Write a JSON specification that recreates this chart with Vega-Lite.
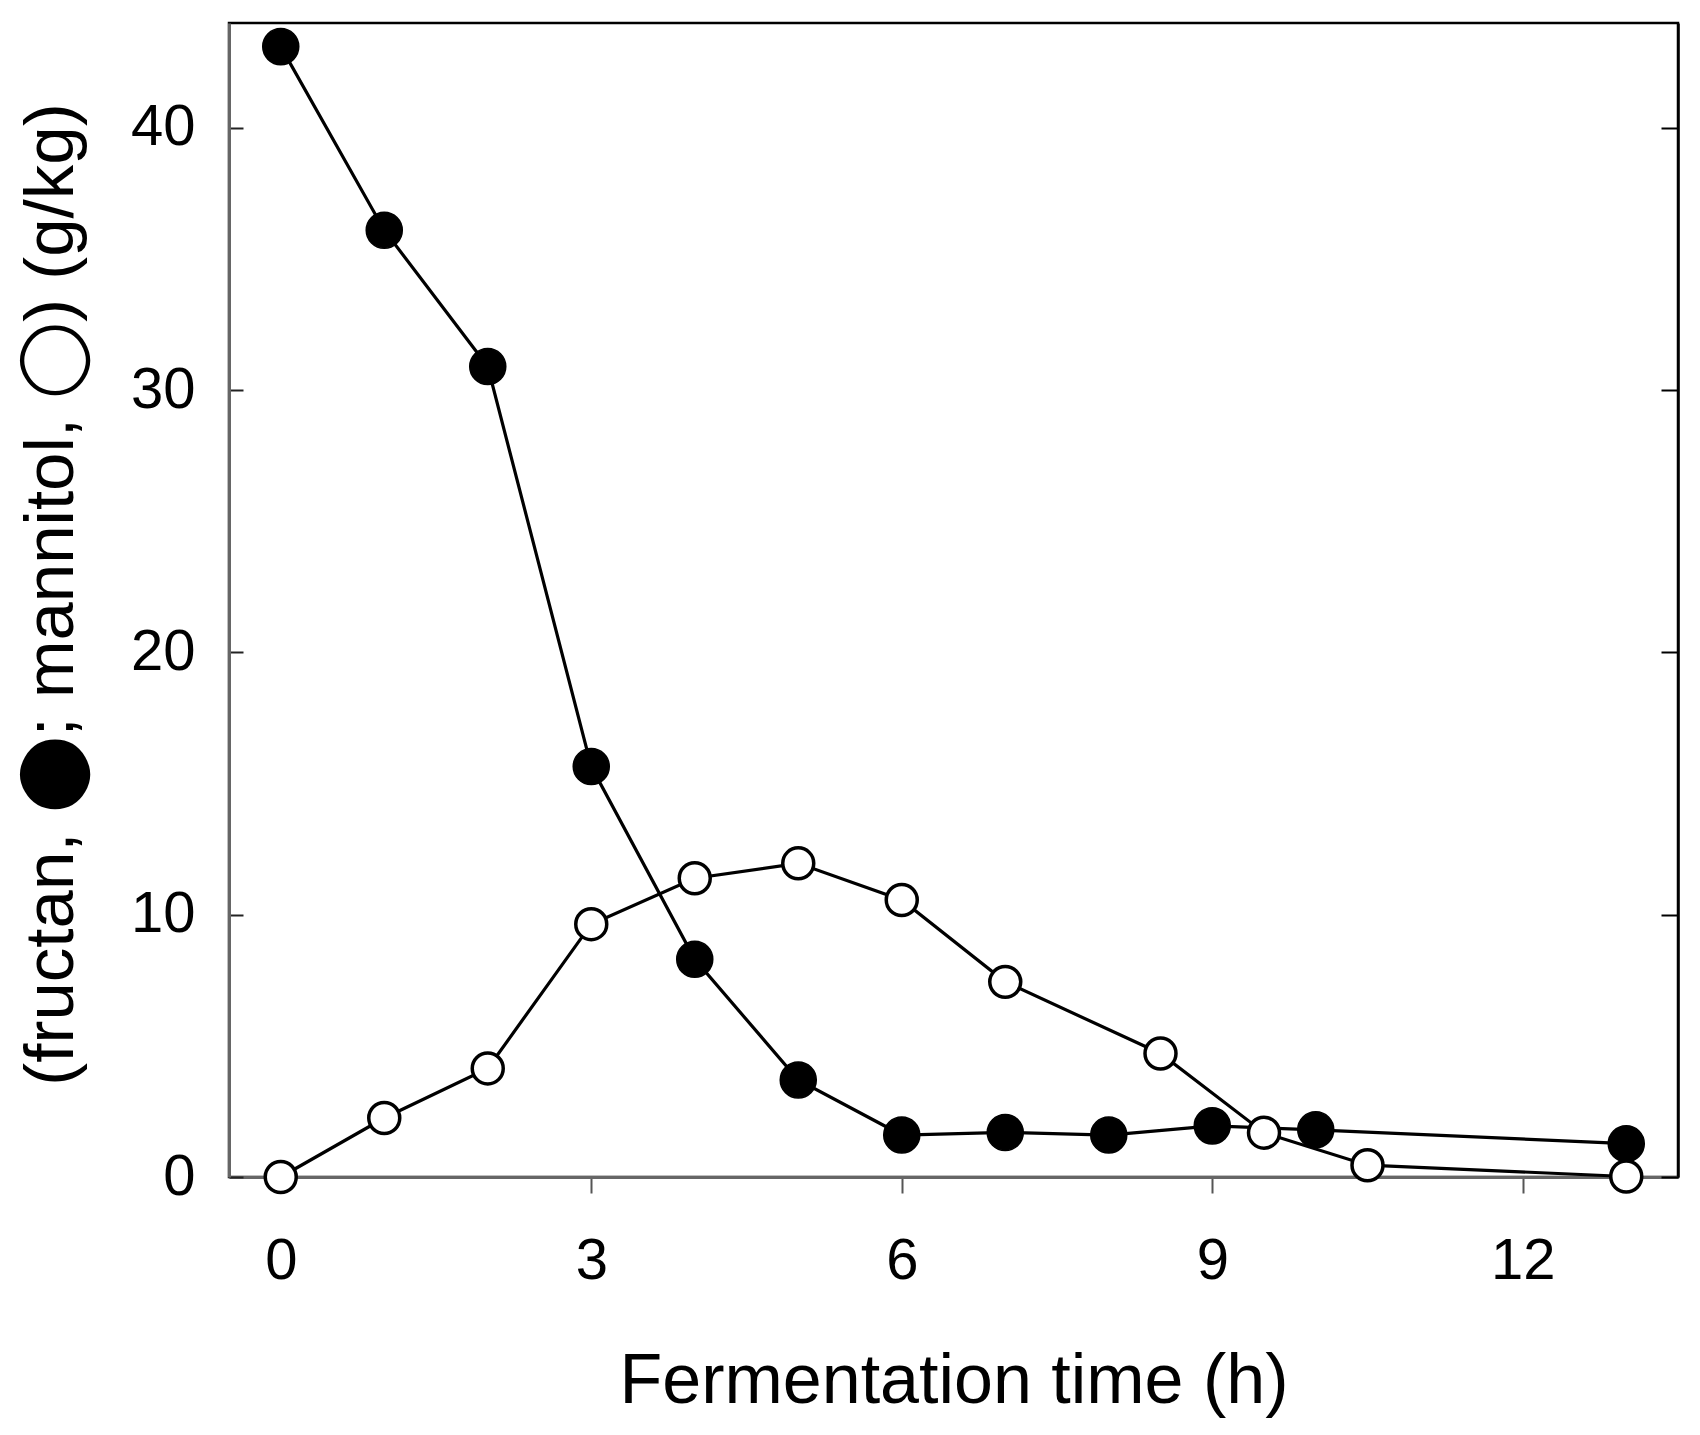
{
  "$schema": "https://vega.github.io/schema/vega-lite/v6.json",
  "width": 1449,
  "height": 1154,
  "autosize": {"type": "none"},
  "padding": {"left": 229, "top": 23, "right": 22, "bottom": 258},
  "background": "white",
  "config": {
    "view": {"stroke": "black", "strokeWidth": 2.5},
    "font": "Liberation Sans",
    "axis": {"grid": false, "labelFont": "Liberation Sans", "titleFont": "Liberation Sans", "labelColor": "black", "titleColor": "black", "titleFontWeight": "normal"}
  },
  "data": {
    "values": [
      {"t": 0, "v": 43.1, "series": "fructan"},
      {"t": 1, "v": 36.1, "series": "fructan"},
      {"t": 2, "v": 30.9, "series": "fructan"},
      {"t": 3, "v": 15.65, "series": "fructan"},
      {"t": 4, "v": 8.3, "series": "fructan"},
      {"t": 5, "v": 3.7, "series": "fructan"},
      {"t": 6, "v": 1.6, "series": "fructan"},
      {"t": 7, "v": 1.7, "series": "fructan"},
      {"t": 8, "v": 1.6, "series": "fructan"},
      {"t": 9, "v": 1.95, "series": "fructan"},
      {"t": 10, "v": 1.8, "series": "fructan"},
      {"t": 13, "v": 1.27, "series": "fructan"},
      {"t": 0, "v": 0, "series": "mannitol"},
      {"t": 1, "v": 2.25, "series": "mannitol"},
      {"t": 2, "v": 4.14, "series": "mannitol"},
      {"t": 3, "v": 9.64, "series": "mannitol"},
      {"t": 4, "v": 11.39, "series": "mannitol"},
      {"t": 5, "v": 11.96, "series": "mannitol"},
      {"t": 6, "v": 10.56, "series": "mannitol"},
      {"t": 7, "v": 7.44, "series": "mannitol"},
      {"t": 8.5, "v": 4.71, "series": "mannitol"},
      {"t": 9.5, "v": 1.69, "series": "mannitol"},
      {"t": 10.5, "v": 0.45, "series": "mannitol"},
      {"t": 13, "v": 0.02, "series": "mannitol"}
    ]
  },
  "encoding": {
    "x": {
      "field": "t",
      "type": "quantitative",
      "scale": {"domain": [-0.5, 13.5], "nice": false, "zero": false},
      "axis": {
        "title": "Fermentation time (h)",
        "values": [0, 3, 6, 9, 12],
        "tickSize": 16,
        "tickWidth": 2,
        "tickColor": "#555555",
        "domainColor": "#666666",
        "domainWidth": 3,
        "labelFontSize": 58,
        "labelPadding": 39,
        "titleFontSize": 70,
        "titleBaseline": "alphabetic",
        "titleY": 225
      }
    }
  },
  "layer": [
    {
      "encoding": {
        "y": {
          "field": "v",
          "type": "quantitative",
          "scale": {"domain": [0, 44], "nice": false},
          "axis": {
            "title": "(fructan, ⬤; mannitol, ◯) (g/kg)",
            "values": [0, 10, 20, 30, 40],
            "tickSize": -14,
            "tickWidth": 2,
            "tickColor": "#222222",
            "domainColor": "#666666",
            "domainWidth": 3,
            "labelFontSize": 58,
            "labelPadding": 48,
            "titleFontSize": 69,
            "titleAngle": -90,
            "titleBaseline": "alphabetic",
            "titleX": -157,
            "titleY": 571
          }
        }
      },
      "layer": [
        {
          "mark": {"type": "line", "color": "black", "strokeWidth": 3.2},
          "encoding": {"detail": {"field": "series"}}
        },
        {
          "transform": [{"filter": "datum.series === 'fructan'"}],
          "mark": {"type": "point", "shape": "circle", "filled": true, "fill": "black", "stroke": "black", "strokeWidth": 1.5, "opacity": 1, "size": 1300}
        },
        {
          "transform": [{"filter": "datum.series === 'mannitol'"}],
          "mark": {"type": "point", "shape": "circle", "filled": true, "fill": "white", "stroke": "black", "strokeWidth": 3.5, "opacity": 1, "size": 960}
        }
      ]
    },
    {
      "mark": {"type": "point", "opacity": 0},
      "encoding": {
        "y": {
          "field": "v",
          "type": "quantitative",
          "scale": {"domain": [0, 44], "nice": false},
          "axis": {
            "orient": "right",
            "title": null,
            "labels": false,
            "values": [0, 10, 20, 30, 40],
            "tickSize": -17,
            "tickWidth": 2,
            "tickColor": "black",
            "domainColor": "black",
            "domainWidth": 2.5
          }
        }
      }
    }
  ],
  "resolve": {"axis": {"y": "independent"}}
}
